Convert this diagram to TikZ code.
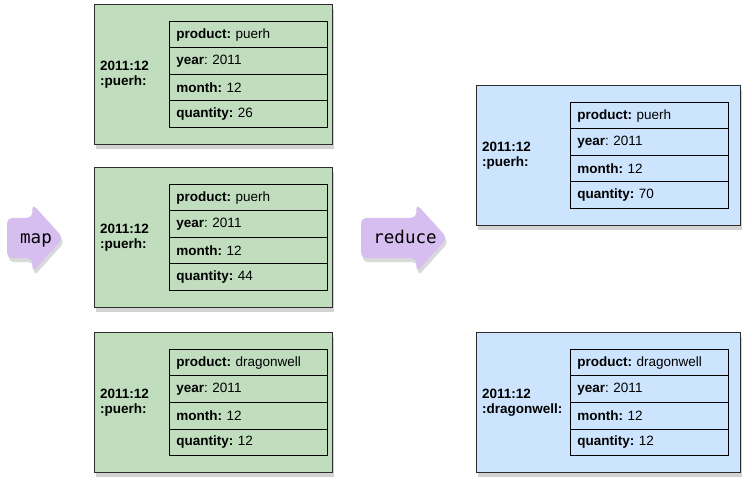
\documentclass[tikz,border=0pt]{standalone}
\usepackage{fontspec}
\setmainfont{Liberation Sans}
\newfontfamily\opfont{DejaVu Sans Mono}
\usetikzlibrary{shapes.arrows,shadows}
\definecolor{mapgreen}{RGB}{192,221,190}
\definecolor{redblue}{RGB}{204,228,254}
\definecolor{oppurple}{RGB}{214,190,240}
\definecolor{boxedge}{RGB}{45,45,45}

\tikzset{
  recbox/.style={draw=boxedge, line width=1.2pt, anchor=north west,
    minimum height=140pt, drop shadow={shadow xshift=1.5pt, shadow yshift=-4pt, opacity=0.35}},
  rowbox/.style={draw=black, line width=0.9pt, anchor=north west, text width=144pt,
    minimum height=26.5pt, inner xsep=7pt, inner ysep=0pt, align=left,
    font=\fontsize{13.5}{16}\selectfont\frenchspacing},
  keytext/.style={anchor=west, inner sep=0pt, align=left,
    font=\fontsize{13.5}{15}\selectfont\bfseries},
  opstep/.style={single arrow, fill=oppurple, rounded corners=5pt, anchor=tail,
    inner xsep=0pt, inner ysep=12pt, text height=12pt, text depth=4pt,
    single arrow head extend=14pt, single arrow tip angle=96,
    drop shadow={shadow xshift=1.5pt, shadow yshift=-4pt, opacity=0.3}},
  optext/.style={anchor=base, inner sep=0pt, font=\fontsize{17.5}{18}\selectfont\opfont}
}

% one record: name, left, top, width, table offset, fill, key, product, quantity
\newcommand\record[9]{%
  \node[recbox, fill=#6, minimum width=#4pt] (#1) at (#2,#3) {};
  \node[keytext] (#1-key) at (#2+6,#3+70.5) {2011:12\\#7};
  \node[rowbox] (#1-prod) at (#2+#5,#3+17) {\textbf{product:} #8};
  \node[rowbox] (#1-year) at (#2+#5,#3+43.5) {\textbf{year}: 2011};
  \node[rowbox] (#1-month) at (#2+#5,#3+70) {\textbf{month:} 12};
  \node[rowbox] (#1-qty) at (#2+#5,#3+96.5) {\textbf{quantity:} #9};
}

\begin{document}
\begin{tikzpicture}[x=1pt, y=-1pt]
  \useasboundingbox (0,0) rectangle (750,486);
  % mapped records
  \record{g1}{94}{4}{238}{75}{mapgreen}{:puerh:}{puerh}{26}
  \record{g2}{94}{167}{238}{75}{mapgreen}{:puerh:}{puerh}{44}
  \record{g3}{94}{332}{238}{75}{mapgreen}{:puerh:}{dragonwell}{12}
  % reduced records
  \record{b1}{476}{85}{264}{94}{redblue}{:puerh:}{puerh}{70}
  \record{b2}{476}{332}{264}{94}{redblue}{:dragonwell:}{dragonwell}{12}
  % steps
  \node[opstep, minimum height=56pt] (map) at (7,238) {};
  \node[optext] (map-text) at (36,244) {map};
  \node[opstep, minimum height=86pt] (reduce) at (361,238) {};
  \node[optext] (reduce-text) at (405,244) {reduce};
\end{tikzpicture}
\end{document}
